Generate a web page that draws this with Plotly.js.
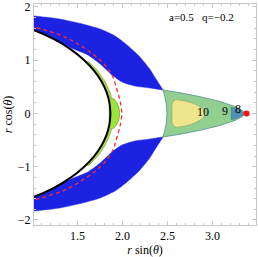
<!DOCTYPE html>
<html><head><meta charset="utf-8">
<script src="https://cdn.plot.ly/plotly-3.0.1.min.js"></script>
<style>html,body{margin:0;padding:0;background:#fff}#c{width:258px;height:257px}</style>
</head><body><div id="c"></div>
<script>
// ---- data (upper half; lower half is the mirror image) ----
// blue band: outer edge (left -> right)
const blueOuterX = [0.95, 1.026, 1.30, 1.555, 1.75, 1.917, 2.05, 2.183, 2.294, 2.372, 2.45];
const blueOuterY = [1.845, 1.831, 1.775, 1.681, 1.587, 1.456, 1.287, 1.080, 0.855, 0.648, 0.441];
// blue band: inner edge (right -> left)
const blueInnerX = [2.45, 2.306, 2.139, 1.995, 1.883, 1.765, 1.615, 1.45, 1.339, 1.11, 0.96];
const blueInnerY = [0.441, 0.479, 0.516, 0.592, 0.723, 0.911, 1.099, 1.215, 1.3, 1.5, 1.6];
// horizon (black curve), top -> equator
const horX = [0.648, 0.960, 1.234, 1.429, 1.575, 1.686, 1.767, 1.823, 1.855, 1.866];
const horY = [1.75, 1.6, 1.4, 1.2, 1.0, 0.8, 0.6, 0.4, 0.2, 0.0];
// red dashed curve, top -> equator
const ergX = [0.90, 1.028, 1.383, 1.75, 1.883, 1.939, 1.975, 1.995];
const ergY = [1.70, 1.624, 1.418, 1.005, 0.723, 0.441, 0.22, 0.0];
// yellow-green strip along the horizon
const stripOutX = [1.62, 1.725, 1.805, 1.86, 1.875];
const stripOutY = [0.98, 0.8, 0.6, 0.4, 0.3];
const stripInX = [1.842, 1.823, 1.767, 1.686, 1.59];
const stripInY = [0.3, 0.4, 0.6, 0.8, 0.98];
// small green lobe at the equator (closed loop)
const lobeX = [1.858, 1.872, 1.905, 1.938, 1.962, 1.968, 1.962, 1.938, 1.905, 1.872, 1.858, 1.853, 1.858];
const lobeY = [0.27, 0.29, 0.27, 0.20, 0.10, 0.0, -0.10, -0.20, -0.27, -0.29, -0.27, 0.0, 0.27];
// contour regions (upper half, left -> tip)
const greenX = [2.494, 2.487, 2.470, 2.45, 2.639, 2.861, 3.083, 3.25, 3.339, 3.361];
const greenY = [0.0, 0.18, 0.32, 0.441, 0.390, 0.316, 0.225, 0.130, 0.050, 0.0];
const yellowX = [2.55, 2.55, 2.583, 2.694, 2.806, 2.894, 2.928];
const yellowY = [0.0, 0.178, 0.254, 0.235, 0.178, 0.085, 0.0];
const tealX = [3.206, 3.206, 3.283, 3.361];
const tealY = [0.0, 0.122, 0.085, 0.0];
// contour labels
const labelText = ["10", "9", "8"];
const labelX = [2.894, 3.139, 3.283];
const labelY = [0.0, 0.02, 0.06];
// marker
const dotX = [3.378], dotY = [0.0];
// ticks
const xTicks = [1.5, 2.0, 2.5, 3.0];
const xTickText = ["1.5", "2.0", "2.5", "3.0"];
const yTicks = [-2, -1, 0, 1, 2];
const yTickText = ["\u22122", "\u22121", "0", "1", "2"];

// ---- helpers ----
const neg = a => a.map(v => -v);
const rev = a => a.slice().reverse();
function closedSym(x, y) { // upper half + mirrored lower half
  return {x: x.concat(rev(x)), y: y.concat(rev(neg(y)))};
}
const serif = '"Liberation Serif","Times New Roman",serif';
const traces = [];
function poly(x, y, fill, line, lw, shape) {
  traces.push({type: 'scatter', mode: 'lines', x: x, y: y, fill: 'toself', fillcolor: fill,
    line: {color: line, width: lw, shape: shape || 'spline', smoothing: 0.6}, hoverinfo: 'skip', showlegend: false});
}
const blueC = '#1c22e2';
// blue bands
poly(blueOuterX.concat(blueInnerX), blueOuterY.concat(blueInnerY), blueC, blueC, 0.5);
poly(blueOuterX.concat(blueInnerX), neg(blueOuterY.concat(blueInnerY)), blueC, blueC, 0.5);
// strips
poly(stripOutX.concat(stripInX), stripOutY.concat(stripInY), '#b2d640', '#6aa030', 0.6);
poly(stripOutX.concat(stripInX), neg(stripOutY.concat(stripInY)), '#b2d640', '#6aa030', 0.6);
// lobe
poly(lobeX, lobeY, '#9be23a', '#5f9a2a', 0.7);
// horizon
const h = closedSym(horX, horY);
traces.push({type: 'scatter', mode: 'lines', x: h.x, y: h.y, line: {color: '#000', width: 2, shape: 'spline'}, hoverinfo: 'skip', showlegend: false});
// red dashed
const e = closedSym(ergX, ergY);
traces.push({type: 'scatter', mode: 'lines', x: e.x, y: e.y, line: {color: '#ff2a2a', width: 1.3, dash: '4px,3px', shape: 'spline'}, hoverinfo: 'skip', showlegend: false});
// contour regions
const g = closedSym(greenX, greenY);
poly(g.x, g.y, '#92d092', '#4f8f8f', 0.8, 'linear');
const yl = closedSym(yellowX, yellowY);
poly(yl.x, yl.y, '#eee68c', '#8a9a60', 0.6);
const tl = closedSym(tealX, tealY);
poly(tl.x, tl.y, '#4f93b0', '#3f7f99', 0.5, 'linear');
// dot
traces.push({type: 'scatter', mode: 'markers', x: dotX, y: dotY, marker: {color: '#ff1010', size: 6}, hoverinfo: 'skip', showlegend: false});
// labels
traces.push({type: 'scatter', mode: 'text', x: labelX, y: labelY, text: labelText, textfont: {family: serif, size: 12, color: '#000'}, hoverinfo: 'skip', showlegend: false});

const axisCommon = {
  showgrid: false, zeroline: false, showline: true, linecolor: '#c8c8c8', linewidth: 1,
  mirror: 'ticks', ticks: 'inside', ticklen: 4, tickcolor: '#c8c8c8',
  tickfont: {family: serif, size: 12, color: '#000'},
  minor: {ticks: 'inside', ticklen: 2, tickcolor: '#c8c8c8', dtick: 0.1}
};
const layout = {
  width: 258, height: 257, margin: {l: 34, r: 2, t: 4, b: 32},
  paper_bgcolor: '#fff', plot_bgcolor: '#fff', showlegend: false,
  xaxis: Object.assign({}, axisCommon, {range: [1.017, 3.483], tickvals: xTicks, ticktext: xTickText,
    title: {text: '<i>r</i> sin(<i>θ</i>)', font: {family: serif, size: 12, color: '#000'}, standoff: 4}}),
  yaxis: Object.assign({}, axisCommon, {range: [-2.094, 2.056], tickvals: yTicks, ticktext: yTickText,
    minor: {ticks: 'inside', ticklen: 2, tickcolor: '#c8c8c8', dtick: 0.2},
    title: {text: '<i>r</i> cos(<i>θ</i>)', font: {family: serif, size: 12, color: '#000'}, standoff: 2}}),
  annotations: [{x: 2.883, y: 1.812, xref: 'x', yref: 'y', text: 'a=0.5   q=\u22120.2', showarrow: false,
    font: {family: serif, size: 11, color: '#000'}}]
};
Plotly.newPlot('c', traces, layout, {staticPlot: true, displayModeBar: false});
</script></body></html>
